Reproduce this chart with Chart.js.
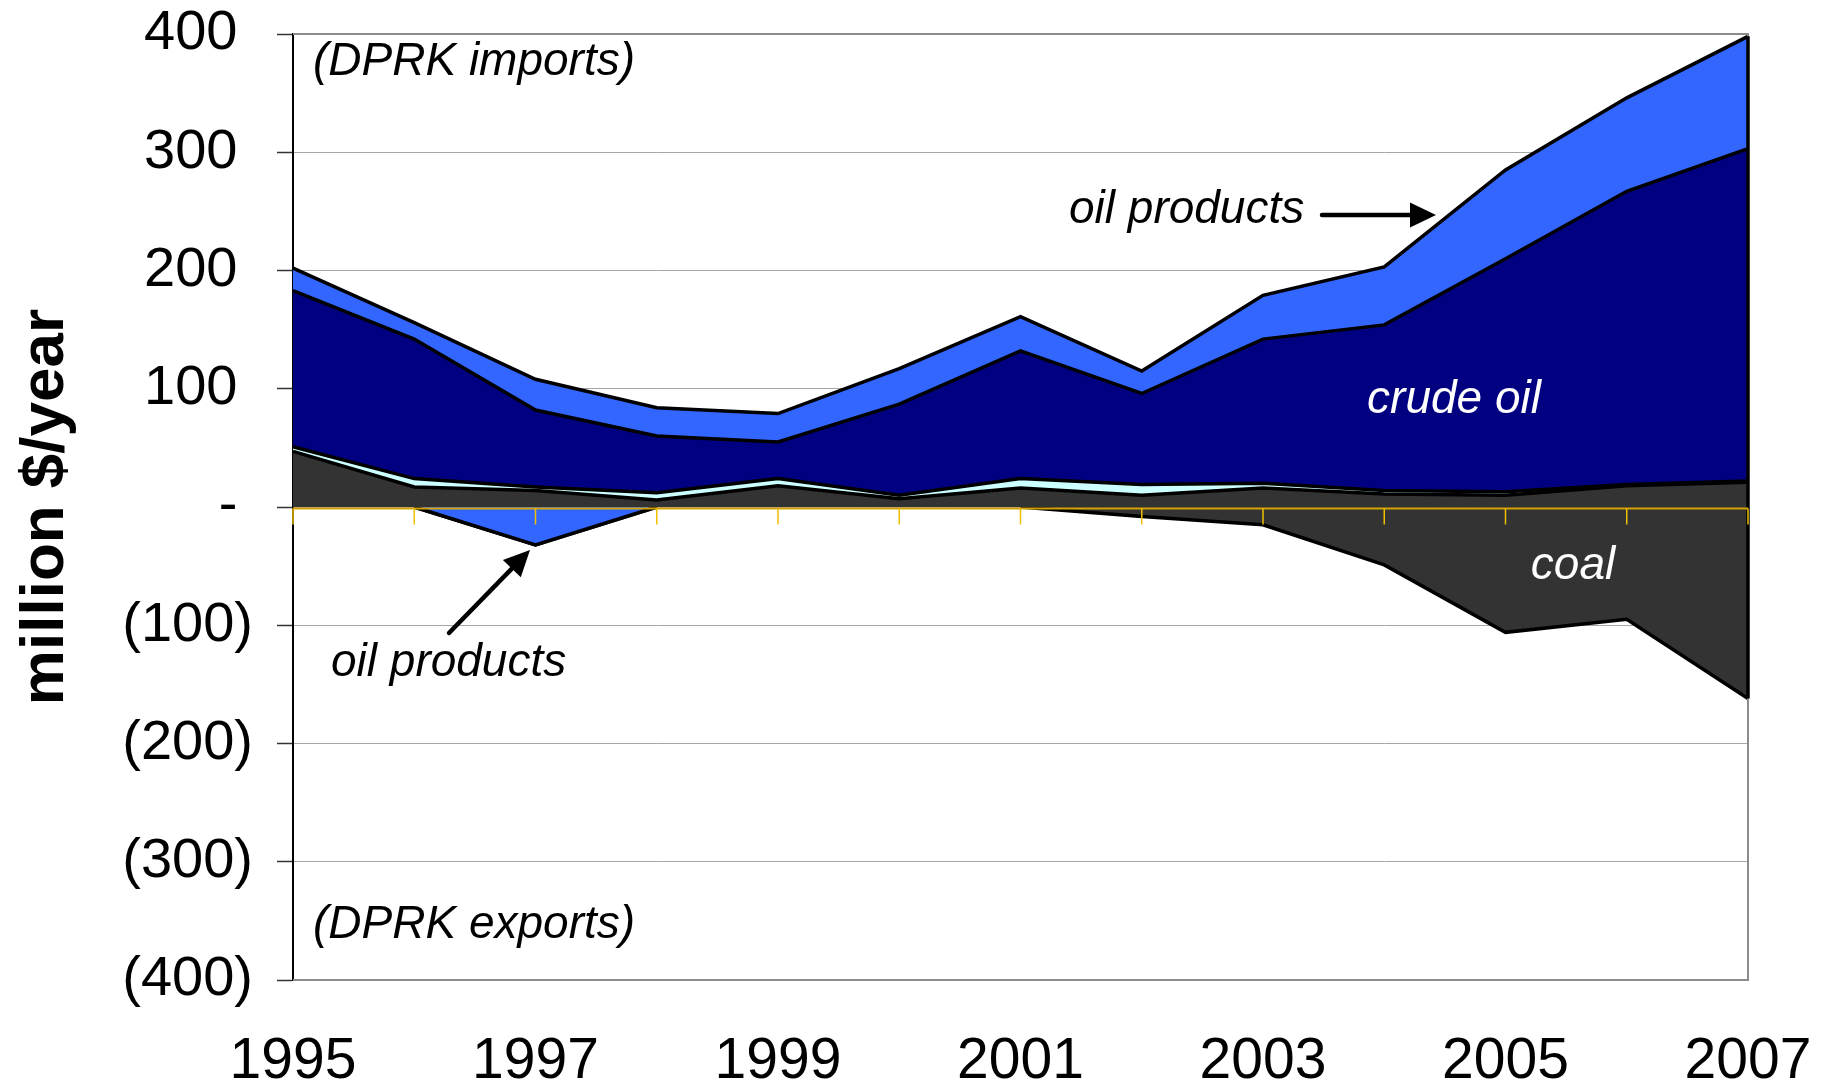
<!DOCTYPE html>
<html><head><meta charset="utf-8">
<script src="https://cdn.jsdelivr.net/npm/chart.js@4"></script>
<style>html,body{margin:0;padding:0;background:#fff;overflow:hidden}#wrap{width:1830px;height:1085px;position:relative}</style>
</head><body><div id="wrap"><canvas id="c" width="1830" height="1085"></canvas></div>
<script>
// ---- data (million $/year) ----
const years = ['1995','1996','1997','1998','1999','2000','2001','2002','2003','2004','2005','2006','2007'];
const coalImports        = [47, 17, 14, 6, 18, 7, 16, 10, 16, 11, 10, 18, 21];
const otherImports       = [4, 7, 3, 6, 6, 3, 8, 9, 4, 3, 3, 1, 1];
const crudeOilImports    = [132, 118, 65, 48, 31, 77, 108, 77, 122, 140, 197, 248, 281];
const oilProductsImports = [19, 14, 26, 24, 24, 30, 29, 19, 37, 49, 75, 79, 95];
const oilProductsExports = [0, 0, -32, 0, 0, 0, 0, 0, 0, 0, 0, 0, 0];
const coalExports        = [0, 0, 0, 0, 0, 0, 0, -8, -15, -49, -106, -95, -162];
const yTickValues = [-400, -300, -200, -100, 0, 100, 200, 300, 400];
const yTickLabels = ['(400)', '(300)', '(200)', '(100)', '- ', '100 ', '200 ', '300 ', '400 '];
const xTickLabels = ['1995', '', '1997', '', '1999', '', '2001', '', '2003', '', '2005', '', '2007'];

// ---- cumulative stacks built from the arrays ----
const add = (a, b) => a.map((v, i) => v + b[i]);
const s1 = coalImports.slice();
const s2 = add(s1, otherImports);
const s3 = add(s2, crudeOilImports);
const s4 = add(s3, oilProductsImports);
const n1 = oilProductsExports.slice();
const n2 = add(n1, coalExports);

const FONT = "'Liberation Sans', Arial, sans-serif";
const hideZero = (raw) => ({
  borderColor: ctx => (raw[ctx.p0DataIndex] === 0 && raw[ctx.p1DataIndex] === 0) ? 'rgba(0,0,0,0)' : '#000'
});
const base = { pointRadius: 0, pointHoverRadius: 0, borderWidth: 3.5, borderColor: '#000', tension: 0, borderJoinStyle: 'miter' };

const frameAndAnnotations = {
  id: 'frameAndAnnotations',
  afterDatasetsDraw(chart) {
    const { ctx, chartArea: a, scales: { x, y } } = chart;
    ctx.save();
    ctx.strokeStyle = '#8c8c8c'; ctx.lineWidth = 2;
    ctx.beginPath();
    ctx.moveTo(a.left, a.top); ctx.lineTo(a.right, a.top);
    ctx.lineTo(a.right, a.bottom); ctx.lineTo(a.left, a.bottom);
    ctx.stroke();
    const last = years.length - 1;
    ctx.strokeStyle = '#000'; ctx.lineWidth = 3.5;
    ctx.beginPath();
    ctx.moveTo(x.getPixelForValue(last), y.getPixelForValue(s4[last]));
    ctx.lineTo(x.getPixelForValue(last), y.getPixelForValue(n2[last]));
    ctx.stroke();
    const y0 = Math.round(y.getPixelForValue(0)) + 1.5;
    ctx.strokeStyle = '#d4a400'; ctx.lineWidth = 2;
    ctx.beginPath(); ctx.moveTo(a.left, y0); ctx.lineTo(a.right, y0); ctx.stroke();
    ctx.strokeStyle = '#f0c000'; ctx.lineWidth = 1.5;
    for (let i = 0; i < years.length; i++) {
      const px = x.getPixelForValue(i);
      ctx.beginPath(); ctx.moveTo(px, y0); ctx.lineTo(px, y0 + 16); ctx.stroke();
    }
    ctx.font = 'italic 46px ' + FONT;
    ctx.textBaseline = 'middle';
    ctx.fillStyle = '#000'; ctx.textAlign = 'left';
    ctx.fillText('(DPRK imports)', 313, 62);
    ctx.fillText('(DPRK exports)', 313, 925);
    ctx.fillText('oil products', 1069, 210);
    ctx.fillText('oil products', 331, 663);
    ctx.fillStyle = '#fff'; ctx.textAlign = 'center';
    ctx.fillText('crude oil', 1454, 400);
    ctx.fillText('coal', 1573, 566);
    const arrow = (x1, y1, x2, y2) => {
      const ang = Math.atan2(y2 - y1, x2 - x1), hl = 26, hw = 12.5;
      const bx = x2 - hl * Math.cos(ang), by = y2 - hl * Math.sin(ang);
      ctx.strokeStyle = '#000'; ctx.fillStyle = '#000'; ctx.lineWidth = 4.5; ctx.lineCap = 'round';
      ctx.beginPath(); ctx.moveTo(x1, y1); ctx.lineTo(bx, by); ctx.stroke();
      ctx.beginPath(); ctx.moveTo(x2, y2);
      ctx.lineTo(bx + hw * Math.sin(ang), by - hw * Math.cos(ang));
      ctx.lineTo(bx - hw * Math.sin(ang), by + hw * Math.cos(ang));
      ctx.closePath(); ctx.fill();
    };
    arrow(1322, 215, 1436, 215);
    arrow(449, 633, 530, 550);
    ctx.restore();
  }
};

new Chart(document.getElementById('c'), {
  type: 'line',
  data: {
    labels: years,
    datasets: [
      { ...base, label: 'coal imports', data: s1, fill: 'origin', backgroundColor: '#333333' },
      { ...base, label: 'other', data: s2, fill: '-1', backgroundColor: '#ccffff' },
      { ...base, label: 'crude oil', data: s3, fill: '-1', backgroundColor: '#000080' },
      { ...base, label: 'oil products', data: s4, fill: '-1', backgroundColor: '#3366ff' },
      { ...base, label: 'oil products exports', data: n1, fill: 'origin', backgroundColor: '#3366ff', segment: hideZero(n1) },
      { ...base, label: 'coal exports', data: n2, fill: '-1', backgroundColor: '#333333', segment: hideZero(n2) }
    ]
  },
  options: {
    responsive: false, animation: false, devicePixelRatio: 1,
    layout: { padding: { top: 34, right: 82, bottom: 0, left: 0 } },
    plugins: { legend: { display: false }, tooltip: { enabled: false }, filler: { propagate: false } },
    scales: {
      x: {
        type: 'category', offset: false,
        grid: { display: false, drawTicks: false },
        border: { display: false },
        ticks: { autoSkip: false, maxRotation: 0, minRotation: 0, padding: 48, color: '#000',
                 font: { family: FONT, size: 57 }, callback: (v, i) => xTickLabels[i] },
        afterFit: s => { s.height = 105; s.paddingLeft = 0; s.paddingRight = 0; }
      },
      y: {
        min: -400, max: 400,
        afterBuildTicks: s => { s.ticks = yTickValues.map(v => ({ value: v })); },
        grid: { color: '#a6a6a6', lineWidth: 1, tickLength: 16, tickColor: '#333', tickWidth: 1.5 },
        border: { display: true, color: '#000', width: 2 },
        ticks: { padding: 24, color: '#000', font: { family: FONT, size: 56 },
                 callback: (v) => yTickLabels[yTickValues.indexOf(v)] },
        title: { display: true, text: 'million $/year', color: '#000', padding: { top: 9, bottom: 0 },
                 font: { family: FONT, size: 62, weight: 'bold' } },
        afterFit: s => { s.width = 293; s.paddingTop = 0; s.paddingBottom = 0; }
      }
    }
  },
  plugins: [frameAndAnnotations]
});
</script></body></html>
